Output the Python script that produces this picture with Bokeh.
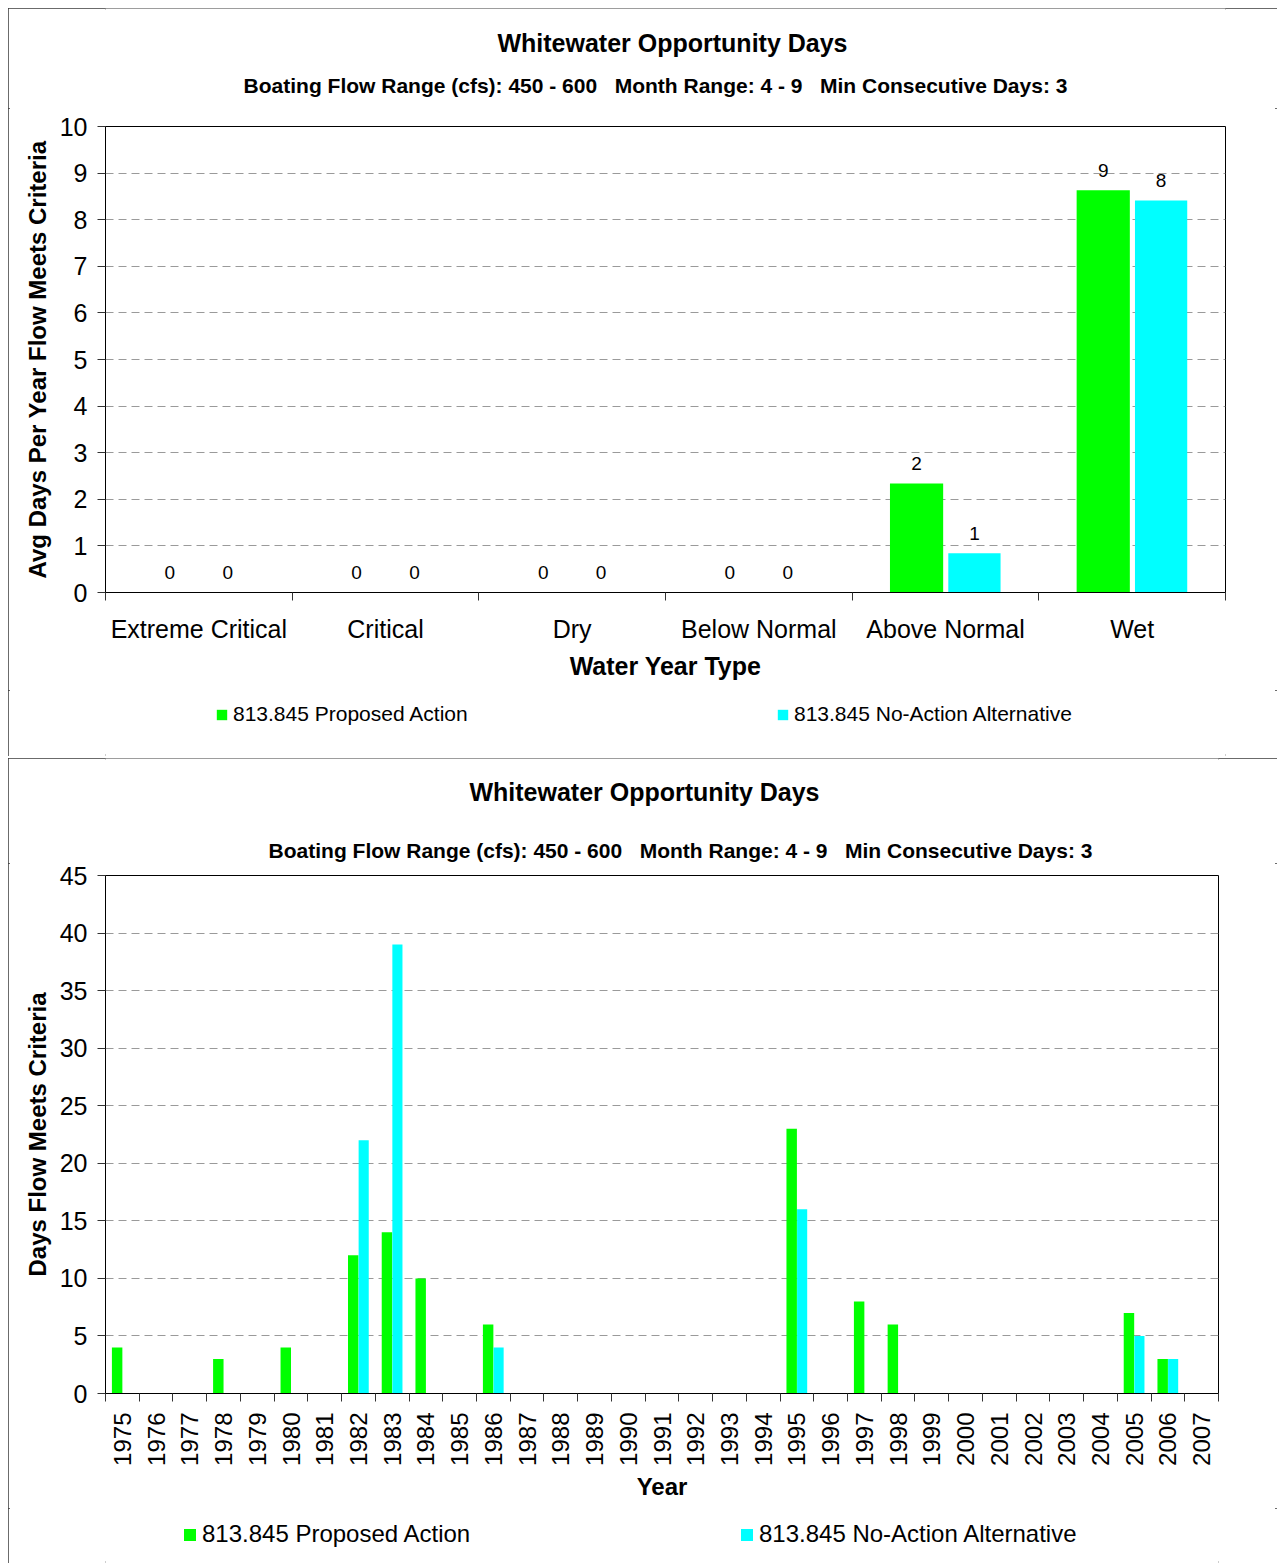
import math
from bokeh.plotting import figure
from bokeh.models import (Range1d, LinearAxis, FixedTicker, CustomJSTickFormatter,
                          Label, Legend, LegendItem, ColumnDataSource)
from bokeh.transform import dodge
from bokeh.layouts import column
from bokeh.embed import file_html
from bokeh.resources import INLINE
from bokeh.core.properties import value

FONT = "Liberation Sans"
GREEN = "#00FF00"
CYAN = "#00FFFF"

# ---------------- data ----------------
water_year_types = ["Extreme Critical", "Critical", "Dry", "Below Normal", "Above Normal", "Wet"]
avg_proposed = [0, 0, 0, 0, 2.34, 8.63]
avg_no_action = [0, 0, 0, 0, 0.84, 8.41]

years = ["1975", "1976", "1977", "1978", "1979", "1980", "1981", "1982", "1983", "1984",
         "1985", "1986", "1987", "1988", "1989", "1990", "1991", "1992", "1993", "1994",
         "1995", "1996", "1997", "1998", "1999", "2000", "2001", "2002", "2003", "2004",
         "2005", "2006", "2007"]
days_proposed = [4, 0, 0, 3, 0, 4, 0, 12, 14, 10, 0, 6,
                 0, 0, 0, 0, 0, 0, 0, 0,
                 23, 0, 8, 6,
                 0, 0, 0, 0, 0, 0,
                 7, 3, 0]
days_no_action = [0, 0, 0, 0, 0, 0, 0, 22, 39, 0, 0, 4,
                  0, 0, 0, 0, 0, 0, 0, 0,
                  16, 0, 0, 0,
                  0, 0, 0, 0, 0, 0,
                  5, 3, 0]

series_names = ["813.845 Proposed Action", "813.845 No-Action Alternative"]
title_text = "Whitewater Opportunity Days"
subtitle_text = ("Boating Flow Range (cfs): 450 - 600\u00a0\u00a0\u00a0Month Range: 4 - 9"
                 "\u00a0\u00a0\u00a0Min Consecutive Days: 3")

W = 1269
BORDER = {"outline": "2px solid #3a3a3a", "outline-offset": "-2px"}
MBL = 97


def blank_fig(height, mbr):
    # pixel-space helper panel (x and y in pixels of this panel, y measured from its top)
    p = figure(width=W, height=height, x_range=Range1d(MBL, W - mbr), y_range=Range1d(height, 0),
               x_axis_location=None, y_axis_location=None, output_backend="svg",
               toolbar_location=None, min_border_left=MBL, min_border_right=mbr,
               min_border_top=0, min_border_bottom=0, title=None)
    p.outline_line_color = None
    p.background_fill_color = "white"
    p.border_fill_color = "white"
    p.grid.visible = False
    return p


def header(height, mbr, title_xy, sub_xy):
    p = blank_fig(height, mbr)
    p.add_layout(Label(x=title_xy[0], y=title_xy[1], text=title_text, text_font=FONT,
                       text_font_size="25px", text_font_style="bold", text_align="center",
                       text_baseline="middle", text_color="black"))
    p.add_layout(Label(x=sub_xy[0], y=sub_xy[1], text=subtitle_text, text_font=FONT,
                       text_font_size="21px", text_font_style="bold", text_align="center",
                       text_baseline="middle", text_color="black"))
    return p


def legend_fig(height, mbr, colors, x, y, glyph, label_width, font_size):
    p = blank_fig(height, mbr)
    items = []
    for name, color in zip(series_names, colors):
        # zero-height proxy bar: only its swatch appears, in the legend
        r = p.vbar(x=[MBL], top=[0], width=1, fill_color=color, line_color=None)
        items.append(LegendItem(label=name, renderers=[r]))
    leg = Legend(items=items, orientation="horizontal", location=(x, y),
                 glyph_width=glyph, glyph_height=glyph, label_standoff=5, label_width=label_width,
                 spacing=0, padding=0, margin=0, border_line_color=None,
                 background_fill_alpha=0, label_text_font=FONT, label_text_font_size=font_size,
                 label_text_color="black")
    p.add_layout(leg, "center")
    return p


def style_chart(p, ticks, label):
    p.background_fill_color = "white"
    p.border_fill_color = "white"
    p.outline_line_color = "black"
    p.outline_line_width = 1
    p.xgrid.visible = False
    t = FixedTicker(ticks=ticks)
    p.yaxis.ticker = t
    p.ygrid.ticker = t
    p.ygrid.grid_line_color = "#9a9a9a"
    p.ygrid.grid_line_dash = "8 5"
    p.yaxis.axis_label = label
    p.yaxis.axis_label_text_font = FONT
    p.yaxis.axis_label_text_font_size = "24px"
    p.yaxis.axis_label_text_font_style = "bold"
    p.yaxis.axis_label_text_color = "black"
    p.yaxis.axis_label_standoff = 6
    p.yaxis.major_label_text_font = FONT
    p.yaxis.major_label_text_font_size = "25px"
    p.yaxis.major_label_text_color = "black"
    p.yaxis.major_label_standoff = 10
    p.yaxis.major_tick_out = 8
    p.yaxis.major_tick_in = 0
    p.yaxis.minor_tick_line_color = None
    p.yaxis.axis_line_color = "black"
    p.yaxis.major_tick_line_color = "#333333"


def add_x_axes(p, labels, label_size, orientation, label_standoff, title, title_size, title_standoff):
    n = len(labels)
    tick_axis = LinearAxis(ticker=FixedTicker(ticks=list(range(n + 1))),
                           major_label_text_font_size="1px", major_label_text_color=None,
                           major_label_standoff=0,
                           major_tick_out=8, major_tick_in=0, minor_tick_line_color=None,
                           axis_line_color="black", major_tick_line_color="#333333")
    p.add_layout(tick_axis, "below")
    fmt = CustomJSTickFormatter(args=dict(labels=labels),
                                code="const i = Math.floor(tick); return (i >= 0 && i < labels.length) ? labels[i] : '';")
    lab_axis = LinearAxis(ticker=FixedTicker(ticks=[i + 0.5 for i in range(n)]), formatter=fmt,
                          axis_line_color=None, major_tick_line_color=None,
                          major_tick_out=0, major_tick_in=0, minor_tick_line_color=None,
                          major_label_standoff=label_standoff, major_label_orientation=orientation,
                          major_label_text_font=FONT, major_label_text_font_size=label_size,
                          major_label_text_color="black",
                          axis_label=title, axis_label_text_font=FONT, axis_label_text_color="black",
                          axis_label_text_font_size=title_size, axis_label_text_font_style="bold",
                          axis_label_standoff=title_standoff)
    p.add_layout(lab_axis, "below")


# ---------------- top chart ----------------
MBR1 = 52
h1 = header(100, MBR1, (664, 34), (647, 77))
p1 = figure(width=W, height=582, title=None,
            x_range=Range1d(0, len(water_year_types)), y_range=Range1d(0, 10),
            x_axis_location=None, output_backend="svg", toolbar_location=None,
            min_border_left=MBL, min_border_right=MBR1, min_border_top=18, min_border_bottom=98)
style_chart(p1, list(range(0, 11)), "Avg Days Per Year Flow Meets Criteria")
add_x_axes(p1, water_year_types, "25px", "horizontal", 14, "Water Year Type", "25px", 6)

src1 = ColumnDataSource(dict(pos=[i + 0.5 for i in range(len(water_year_types))],
                             proposed=avg_proposed, no_action=avg_no_action,
                             lab_p=[str(round(v)) for v in avg_proposed],
                             lab_n=[str(round(v)) for v in avg_no_action]))
p1.vbar(x=dodge("pos", -0.155), top="proposed", width=0.285,
        source=src1, fill_color=GREEN, line_color=None)
p1.vbar(x=dodge("pos", 0.155), top="no_action", width=0.28,
        source=src1, fill_color=CYAN, line_color=None)
p1.text(x=dodge("pos", -0.155), y="proposed", text="lab_p", source=src1,
        text_align="center", text_baseline="middle", y_offset=-20,
        text_font=value(FONT), text_font_size="19px", text_color="black")
p1.text(x=dodge("pos", 0.155), y="no_action", text="lab_n", source=src1,
        text_align="center", text_baseline="middle", y_offset=-20,
        text_font=value(FONT), text_font_size="19px", text_color="black")

l1 = legend_fig(66, MBR1, [GREEN, CYAN], 110, 30, 13, 543, "21px")

block1 = column(h1, p1, l1, spacing=0, styles=BORDER, margin=(8, 0, 0, 8))

# ---------------- bottom chart ----------------
MBR2 = 59
h2 = header(105, MBR2, (636, 33), (672, 92))
p2 = figure(width=W, height=645, title=None,
            x_range=Range1d(0, len(years)), y_range=Range1d(0, 45),
            x_axis_location=None, output_backend="svg", toolbar_location=None,
            min_border_left=MBL, min_border_right=MBR2, min_border_top=12, min_border_bottom=115)
style_chart(p2, list(range(0, 46, 5)), "Days Flow Meets Criteria")
add_x_axes(p2, years, "24px", math.pi / 2, 11, "Year", "24px", 4)

src2 = ColumnDataSource(dict(pos=[i + 0.5 for i in range(len(years))],
                             proposed=days_proposed, no_action=days_no_action))
p2.vbar(x=dodge("pos", -0.155), top="proposed", width=0.31,
        source=src2, fill_color=GREEN, line_color=None)
p2.vbar(x=dodge("pos", 0.155), top="no_action", width=0.3,
        source=src2, fill_color=CYAN, line_color=None)

l2 = legend_fig(55, MBR2, [GREEN, CYAN], 77, 15, 15, 537, "24px")

block2 = column(h2, p2, l2, spacing=0, styles=BORDER, margin=(0, 0, 0, 8))

layout = column(block1, block2, spacing=2)
open("out.html", "w").write(file_html(layout, INLINE))
